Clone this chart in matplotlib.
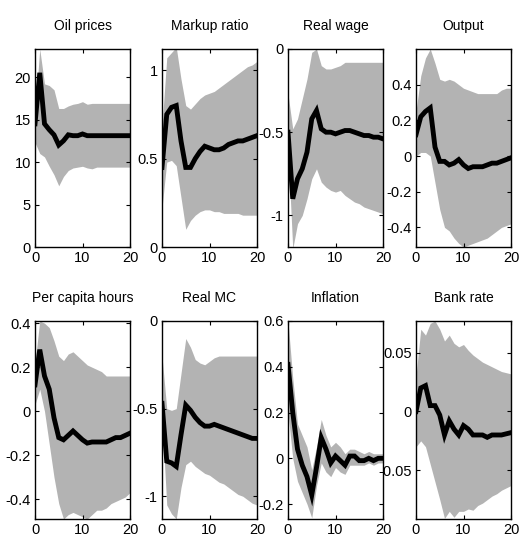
import numpy as np
import matplotlib
matplotlib.use("Agg")
import matplotlib.pyplot as plt
from matplotlib.ticker import FixedLocator, FuncFormatter

plt.rcParams["font.family"] = ["Liberation Sans", "DejaVu Sans"]
plt.rcParams["axes.unicode_minus"] = False

horizon = np.arange(21)

titles = ["Oil prices", "Markup ratio", "Real wage", "Output",
          "Per capita hours", "Real MC", "Inflation", "Bank rate"]

# median responses
oil_mid = [14.5, 20.5, 14.5, 13.8, 13.2, 12.0, 12.5, 13.2, 13.1, 13.1, 13.3,
           13.1, 13.1, 13.1, 13.1, 13.1, 13.1, 13.1, 13.1, 13.1, 13.1]
markup_mid = [0.45, 0.75, 0.79, 0.80, 0.60, 0.45, 0.45, 0.50, 0.54, 0.57, 0.56,
              0.55, 0.55, 0.56, 0.58, 0.59, 0.60, 0.60, 0.61, 0.62, 0.63]
wage_mid = [-0.50, -0.90, -0.78, -0.72, -0.62, -0.42, -0.37, -0.48, -0.50, -0.50, -0.51,
            -0.50, -0.49, -0.49, -0.50, -0.51, -0.52, -0.52, -0.53, -0.53, -0.54]
output_mid = [0.12, 0.22, 0.25, 0.27, 0.05, -0.03, -0.03, -0.05, -0.04, -0.02, -0.05,
              -0.07, -0.06, -0.06, -0.06, -0.05, -0.04, -0.04, -0.03, -0.02, -0.01]
hours_mid = [0.12, 0.28, 0.16, 0.10, -0.03, -0.12, -0.13, -0.11, -0.09, -0.11, -0.13,
             -0.145, -0.14, -0.14, -0.14, -0.14, -0.13, -0.12, -0.12, -0.11, -0.10]
mc_mid = [-0.47, -0.80, -0.81, -0.83, -0.65, -0.48, -0.51, -0.55, -0.58, -0.60, -0.60,
          -0.59, -0.60, -0.61, -0.62, -0.63, -0.64, -0.65, -0.66, -0.67, -0.67]
infl_mid = [0.41, 0.20, 0.04, -0.03, -0.08, -0.16, -0.04, 0.09, 0.04, -0.02, 0.01,
            -0.01, -0.03, 0.01, 0.01, -0.01, -0.01, 0.00, -0.01, 0.00, 0.00]
bank_mid = [0.000, 0.020, 0.022, 0.005, 0.005, -0.003, -0.020, -0.008, -0.015, -0.020, -0.012,
            -0.015, -0.020, -0.020, -0.020, -0.022, -0.020, -0.020, -0.020, -0.019, -0.018]

# upper bands
oil_hi = [15.8, 23.3, 19.2, 19.0, 18.5, 16.3, 16.3, 16.6, 16.8, 16.9, 17.1,
          16.8, 16.9, 16.9, 16.9, 16.9, 16.9, 16.9, 16.9, 16.9, 16.9]
markup_hi = [0.68, 1.07, 1.10, 1.13, 0.95, 0.80, 0.78, 0.81, 0.84, 0.86, 0.87,
             0.88, 0.90, 0.92, 0.94, 0.96, 0.98, 1.00, 1.02, 1.03, 1.05]
wage_hi = [-0.27, -0.48, -0.42, -0.30, -0.18, -0.02, 0.00, -0.10, -0.12, -0.12, -0.11,
           -0.10, -0.08, -0.08, -0.08, -0.08, -0.08, -0.08, -0.08, -0.08, -0.08]
output_hi = [0.25, 0.45, 0.55, 0.60, 0.52, 0.43, 0.42, 0.43, 0.42, 0.40, 0.38,
             0.37, 0.36, 0.35, 0.35, 0.35, 0.35, 0.35, 0.37, 0.38, 0.38]
hours_hi = [0.22, 0.41, 0.40, 0.38, 0.32, 0.25, 0.23, 0.26, 0.27, 0.25, 0.23,
            0.21, 0.20, 0.19, 0.18, 0.16, 0.16, 0.16, 0.16, 0.16, 0.16]
mc_hi = [-0.20, -0.50, -0.51, -0.50, -0.30, -0.10, -0.15, -0.22, -0.24, -0.25, -0.23,
         -0.21, -0.20, -0.20, -0.20, -0.20, -0.20, -0.20, -0.20, -0.20, -0.20]
infl_hi = [0.60, 0.35, 0.15, 0.10, 0.05, -0.05, 0.05, 0.17, 0.10, 0.05, 0.07,
           0.05, 0.02, 0.04, 0.04, 0.03, 0.02, 0.03, 0.02, 0.02, 0.02]
bank_hi = [0.030, 0.070, 0.065, 0.075, 0.077, 0.070, 0.060, 0.065, 0.058, 0.055, 0.057,
           0.052, 0.048, 0.045, 0.042, 0.040, 0.038, 0.036, 0.034, 0.033, 0.032]

# lower bands
oil_lo = [12.3, 11.0, 10.6, 9.5, 8.5, 7.2, 8.3, 9.0, 9.3, 9.4, 9.5,
          9.3, 9.2, 9.4, 9.4, 9.4, 9.4, 9.4, 9.4, 9.4, 9.4]
markup_lo = [0.22, 0.48, 0.49, 0.46, 0.28, 0.10, 0.15, 0.18, 0.20, 0.21, 0.21,
             0.20, 0.20, 0.19, 0.19, 0.19, 0.19, 0.18, 0.18, 0.18, 0.18]
wage_lo = [-0.60, -1.20, -1.05, -1.00, -0.90, -0.78, -0.72, -0.80, -0.83, -0.85, -0.86,
           -0.85, -0.88, -0.90, -0.92, -0.93, -0.95, -0.96, -0.97, -0.98, -0.99]
output_lo = [0.00, 0.02, 0.02, 0.00, -0.15, -0.30, -0.40, -0.42, -0.46, -0.49, -0.51,
             -0.50, -0.49, -0.48, -0.47, -0.46, -0.44, -0.42, -0.40, -0.39, -0.38]
hours_lo = [0.03, 0.10, 0.00, -0.15, -0.30, -0.42, -0.49, -0.47, -0.46, -0.47, -0.48,
            -0.49, -0.47, -0.45, -0.45, -0.44, -0.42, -0.41, -0.40, -0.39, -0.37]
mc_lo = [-0.55, -1.05, -1.10, -1.13, -0.95, -0.82, -0.80, -0.83, -0.85, -0.87, -0.88,
         -0.90, -0.92, -0.93, -0.95, -0.97, -0.99, -1.00, -1.02, -1.04, -1.05]
infl_lo = [0.20, 0.00, -0.10, -0.15, -0.20, -0.26, -0.12, -0.02, -0.06, -0.08, -0.04,
           -0.06, -0.07, -0.03, -0.03, -0.03, -0.03, -0.02, -0.03, -0.02, -0.02]
bank_lo = [-0.030, -0.025, -0.030, -0.045, -0.060, -0.075, -0.091, -0.085, -0.090, -0.085, -0.085,
           -0.083, -0.084, -0.080, -0.078, -0.075, -0.072, -0.070, -0.067, -0.065, -0.063]

mids = [oil_mid, markup_mid, wage_mid, output_mid, hours_mid, mc_mid, infl_mid, bank_mid]
his = [oil_hi, markup_hi, wage_hi, output_hi, hours_hi, mc_hi, infl_hi, bank_hi]
los = [oil_lo, markup_lo, wage_lo, output_lo, hours_lo, mc_lo, infl_lo, bank_lo]

ylims = [(0, 23.3), (0, 1.12), (-1.19, 0), (-0.51, 0.6),
         (-0.49, 0.41), (-1.13, 0), (-0.265, 0.6), (-0.0915, 0.077)]
yticks = [[0, 5, 10, 15, 20], [0, 0.5, 1], [-1, -0.5, 0], [-0.4, -0.2, 0, 0.2, 0.4],
          [-0.4, -0.2, 0, 0.2, 0.4], [-1, -0.5, 0], [-0.2, 0, 0.2, 0.4, 0.6], [-0.05, 0, 0.05]]
xticks = [0, 10, 20]

W, H = 521, 540
col_left = [35, 162, 288, 416]
row_top = [49, 321]
ax_w, ax_h = 95, 198

fig = plt.figure(figsize=(W / 100, H / 100), dpi=100)

for i in range(8):
    r, c = divmod(i, 4)
    ax = fig.add_axes([col_left[c] / W, 1 - (row_top[r] + ax_h) / H, ax_w / W, ax_h / H])
    ax.fill_between(horizon, los[i], his[i], color="#b3b3b3", linewidth=0)
    ax.plot(horizon, mids[i], color="black", linewidth=3.5, solid_joinstyle="miter")
    ax.set_xlim(0, 20)
    ax.set_ylim(*ylims[i])
    ax.xaxis.set_major_locator(FixedLocator(xticks))
    ax.yaxis.set_major_locator(FixedLocator(yticks[i]))
    ax.yaxis.set_major_formatter(FuncFormatter(lambda v, p: "%g" % v))
    ax.tick_params(direction="in", top=True, right=True, length=3, width=0.8,
                   labelsize=10.5, pad=3)
    for s in ax.spines.values():
        s.set_linewidth(1.0)
    ax.set_title(titles[i], fontsize=10, pad=14)

fig.savefig("out.png", dpi=100)
